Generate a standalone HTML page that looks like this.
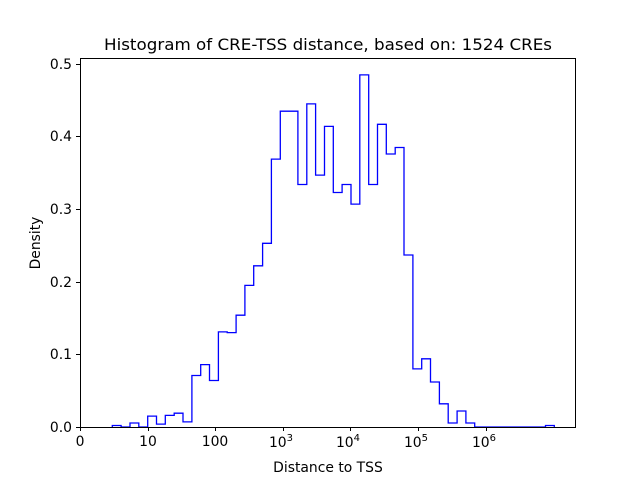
<!DOCTYPE html>
<html><head><meta charset="utf-8"><style>
body{margin:0;background:#fff}
svg text{font-family:"DejaVu Sans","Liberation Sans",sans-serif;fill:#000}
</style></head><body>
<svg width="640" height="480" xmlns="http://www.w3.org/2000/svg">
<rect width="640" height="480" fill="#fff"/>
<text x="328" y="50" font-size="16" text-anchor="middle" textLength="448" lengthAdjust="spacingAndGlyphs">Histogram of CRE-TSS distance, based on: 1524 CREs</text>
<path fill="none" stroke="#0000ff" stroke-width="1.3" d="M112.3,427 V425.5 H121.1 V427 H130.0 V423.0 H138.8 V427 H147.7 V416.1 H156.5 V424.1 H165.3 V415.4 H174.2 V413.2 H183.0 V421.9 H191.9 V375.5 H200.7 V364.6 H209.5 V380.5 H218.4 V331.9 H227.2 V332.6 H236.1 V315.2 H244.9 V285.4 H253.7 V265.8 H262.6 V243.3 H271.4 V159.1 H280.3 V111.2 H297.9 V184.5 H306.8 V103.9 H315.6 V175.1 H324.5 V126.4 H333.3 V192.5 H342.1 V184.5 H351.0 V204.1 H359.8 V74.9 H368.7 V184.5 H377.5 V124.3 H386.3 V154.0 H395.2 V147.5 H404.0 V255.0 H412.9 V368.9 H421.7 V358.8 H430.5 V382.0 H439.4 V403.8 H448.2 V423.0 H457.1 V411.0 H465.9 V423.0 H474.7 V427 H545.5 V425.5 H554.3 V427"/>
<rect x="80.5" y="58.5" width="495" height="369" fill="none" stroke="#000" stroke-width="1"/>
<g stroke="#000" stroke-width="1">
<line x1="80.5" y1="427" x2="80.5" y2="431"/>
<line x1="148.5" y1="427" x2="148.5" y2="431"/>
<line x1="215.5" y1="427" x2="215.5" y2="431"/>
<line x1="283.5" y1="427" x2="283.5" y2="431"/>
<line x1="350.5" y1="427" x2="350.5" y2="431"/>
<line x1="418.5" y1="427" x2="418.5" y2="431"/>
<line x1="486.5" y1="427" x2="486.5" y2="431"/>
<line x1="76" y1="427.5" x2="80" y2="427.5"/>
<line x1="76" y1="354.5" x2="80" y2="354.5"/>
<line x1="76" y1="282.5" x2="80" y2="282.5"/>
<line x1="76" y1="209.5" x2="80" y2="209.5"/>
<line x1="76" y1="136.5" x2="80" y2="136.5"/>
<line x1="76" y1="64.5" x2="80" y2="64.5"/>
</g>
<g font-size="13.9" text-anchor="middle">
<text x="80" y="446">0</text>
<text x="148" y="446">10</text>
<text x="215" y="446">100</text>
<text x="281" y="447">10<tspan font-size="10" dy="-6">3</tspan></text>
<text x="348" y="447">10<tspan font-size="10" dy="-6">4</tspan></text>
<text x="416" y="447">10<tspan font-size="10" dy="-6">5</tspan></text>
<text x="484" y="447">10<tspan font-size="10" dy="-6">6</tspan></text>
<text x="328" y="472">Distance to TSS</text>
</g>
<g font-size="13.9" text-anchor="end">
<text x="72" y="432">0.0</text>
<text x="72" y="359">0.1</text>
<text x="72" y="287">0.2</text>
<text x="72" y="214">0.3</text>
<text x="72" y="141">0.4</text>
<text x="72" y="69">0.5</text>
</g>
<text font-size="13.9" text-anchor="middle" transform="translate(40,243) rotate(-90)">Density</text>
</svg>
</body></html>
